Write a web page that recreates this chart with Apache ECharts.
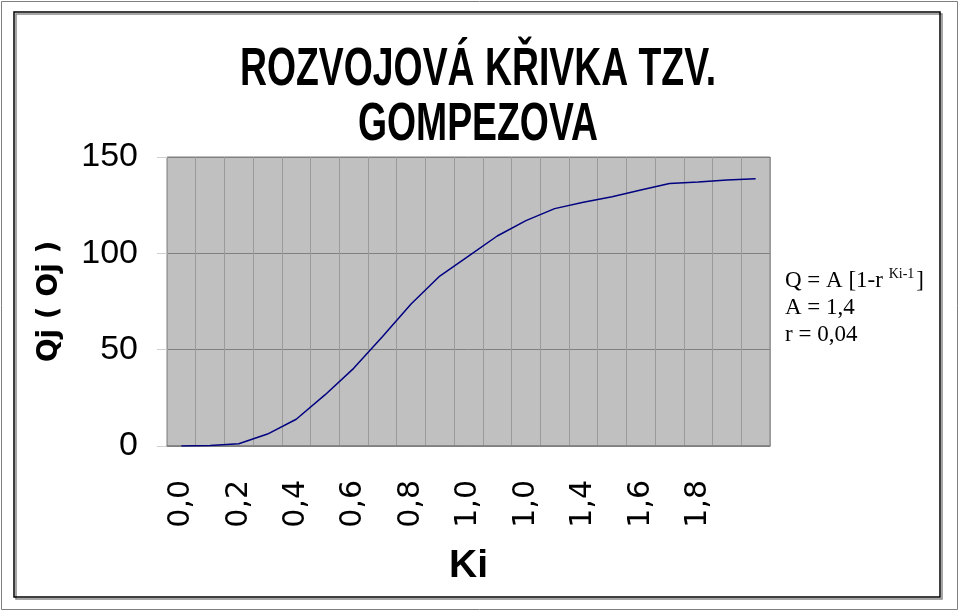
<!DOCTYPE html>
<html>
<head>
<meta charset="utf-8">
<script src="https://cdn.jsdelivr.net/npm/echarts@6/dist/echarts.min.js"></script>
<style>
  html, body { margin: 0; padding: 0; background: #fff; }
  #main { width: 960px; height: 613px; }
</style>
</head>
<body>
<div id="main"></div>
<script>
// Ki categories (label at index 12 reads "1,0" in the source chart)
var categories = ['0,0','0,1','0,2','0,3','0,4','0,5','0,6','0,7','0,8','0,9',
                  '1,0','1,1','1,0','1,3','1,4','1,5','1,6','1,7','1,8','1,9','2,0'];
// Qj values
var qValues = [0, 0.2, 1.2, 6.2, 13.9, 26.5, 40.3, 56.7, 73.7, 88.2,
               98.6, 109, 117, 123.2, 126.5, 129.4, 132.9, 136.3, 137, 138, 138.7];
var yTicks = [0, 50, 100, 150];
var titleLines = ['ROZVOJOVÁ KŘIVKA TZV.', 'GOMPEZOVA'];

var dom = document.getElementById('main');
var myChart = echarts.init(dom);

var sans = '"Liberation Sans", Arial, sans-serif';

// title drawn as text squeezed horizontally, like the narrow font of the original
var titleGraphic = titleLines.map(function (t, i) {
    return {
        type: 'text',
        x: 478,
        y: 70 + i * 55,
        scaleX: 0.705,
        silent: true,
        style: {
            text: t,
            fontFamily: sans,
            fontWeight: 'bold',
            fontSize: 53,
            fill: '#000',
            align: 'center',
            verticalAlign: 'middle'
        }
    };
});

option = {
    animation: false,
    backgroundColor: '#fff',
    grid: {
        left: 167,
        right: 190,
        top: 157,
        bottom: 167,
        show: true,
        backgroundColor: '#c0c0c0',
        borderColor: '#808080',
        borderWidth: 1
    },
    xAxis: {
        type: 'category',
        boundaryGap: true,
        data: categories,
        name: 'Ki',
        nameLocation: 'middle',
        nameGap: 101,
        nameTextStyle: {
            fontFamily: sans,
            fontWeight: 'bold',
            fontSize: 39,
            color: '#000'
        },
        axisLine: { lineStyle: { color: '#808080', width: 1.5 } },
        axisTick: {
            interval: 0,
            length: 12,
            lineStyle: { color: '#d0d0d0' }
        },
        splitLine: {
            show: true,
            interval: 0,
            lineStyle: { color: '#9a9a9a', width: 1 }
        },
        axisLabel: {
            interval: function (index) { return index % 2 === 0 && index < 20; },
            rotate: 90,
            margin: 34,
            fontFamily: '"DejaVu Sans", sans-serif',
            fontSize: 30,
            color: '#000'
        }
    },
    yAxis: {
        type: 'value',
        min: yTicks[0],
        max: yTicks[yTicks.length - 1],
        interval: 50,
        name: 'Qj ( Oj )',
        nameLocation: 'middle',
        nameRotate: 90,
        nameGap: 103,
        nameTextStyle: {
            fontFamily: '"DejaVu Sans", sans-serif',
            fontWeight: 'bold',
            fontSize: 28,
            color: '#000'
        },
        axisLine: { show: false },
        axisTick: {
            show: true,
            length: 10,
            lineStyle: { color: '#d0d0d0' }
        },
        splitLine: { lineStyle: { color: '#808080', width: 1 } },
        axisLabel: {
            margin: 29,
            fontFamily: sans,
            fontSize: 34,
            color: '#000'
        }
    },
    series: [
        {
            name: 'Qj',
            type: 'line',
            data: qValues,
            showSymbol: false,
            symbol: 'none',
            lineStyle: { color: '#000080', width: 1.5 },
            itemStyle: { color: '#000080' }
        }
    ],
    graphic: titleGraphic.concat([
        // outer thin frame
        {
            type: 'rect',
            shape: { x: 1.5, y: 1.5, width: 956, height: 608 },
            style: { fill: 'none', stroke: '#7f7f7f', lineWidth: 1 },
            silent: true
        },
        // inner frame with shadow
        {
            type: 'rect',
            shape: { x: 16, y: 14, width: 926, height: 585 },
            style: { fill: 'none', stroke: '#888', lineWidth: 1.5 },
            silent: true
        },
        {
            type: 'rect',
            shape: { x: 14, y: 12, width: 926, height: 585 },
            style: { fill: 'none', stroke: '#000', lineWidth: 1.5 },
            silent: true
        },
        // formula box
        {
            type: 'text',
            left: 785,
            top: 267,
            style: {
                text: '{n|Q = A [1-r }{s|Ki-1}{n|]}\n{n|A = 1,4}\n{n|r = 0,04}',
                rich: {
                    n: {
                        fontFamily: '"Liberation Serif", "Times New Roman", serif',
                        fontSize: 23,
                        lineHeight: 27,
                        fill: '#000'
                    },
                    s: {
                        fontFamily: '"Liberation Serif", "Times New Roman", serif',
                        fontSize: 14,
                        lineHeight: 27,
                        verticalAlign: 'top',
                        padding: [0, 2, 10, 0],
                        fill: '#000'
                    }
                }
            }
        }
    ])
};

if (option && typeof option === 'object') {
    myChart.setOption(option, true);
}
window.addEventListener('resize', function () {
    myChart.resize();
});
</script>
</body>
</html>
